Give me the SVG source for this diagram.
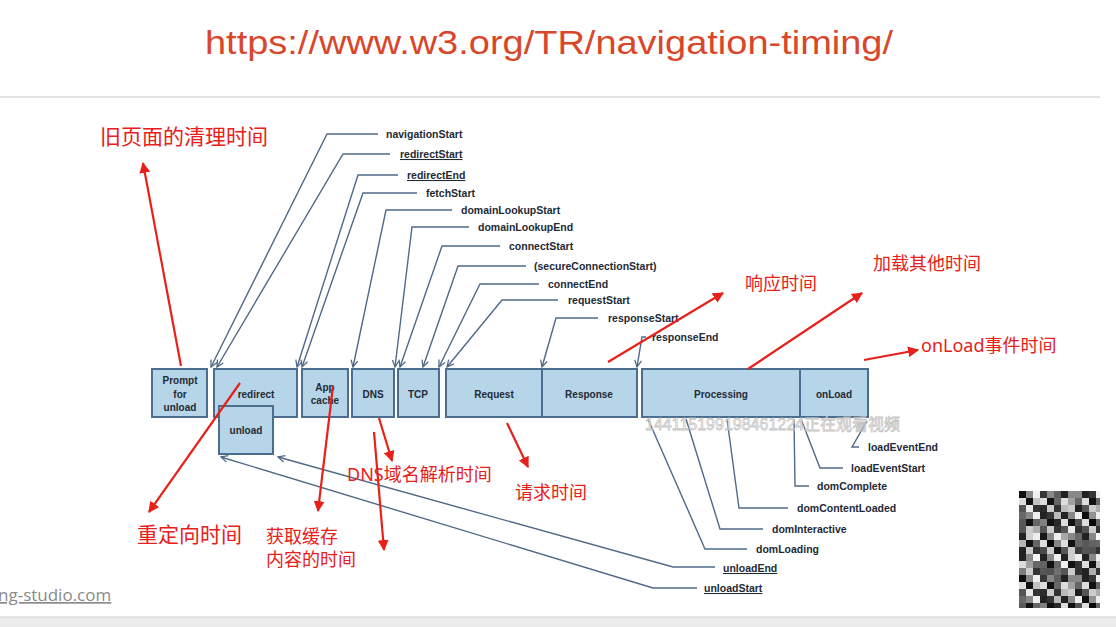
<svg xmlns="http://www.w3.org/2000/svg" width="1116" height="627" viewBox="0 0 1116 627">
<style>
.box{fill:#b6d5e8;stroke:#4b6e8e;stroke-width:2}
.bt{font-family:"Liberation Sans",Arial,sans-serif;font-weight:bold;font-size:10px;fill:#1e2a36;text-anchor:middle}
.lb{font-family:"Liberation Sans",Arial,sans-serif;font-weight:bold;font-size:10.5px;fill:#1e2a36}
.u{text-decoration:underline}
.con{fill:none;stroke:#4f6a88;stroke-width:1.4;marker-end:url(#ba)}
.con2{fill:none;stroke:#4f6a88;stroke-width:1.4}
.ra{stroke:#e8201a;stroke-width:2.2;fill:none;marker-end:url(#ra)}
.rt{font-family:"Noto Sans","Noto Sans CJK SC",sans-serif;fill:#e8201a;font-size:18px}
.rt21{font-size:21px}
</style>
<defs>
<marker id="ba" viewBox="0 0 10 10" refX="9" refY="5" markerWidth="6" markerHeight="6" orient="auto" markerUnits="strokeWidth">
<path d="M1,1 L9,5 L1,9" fill="none" stroke="#4f6a88" stroke-width="1.5"/>
</marker>
<marker id="ra" viewBox="0 0 10 10" refX="9" refY="5" markerWidth="5" markerHeight="5" orient="auto" markerUnits="strokeWidth">
<path d="M0,0 L10,5 L0,10 Z" fill="#e8201a"/>
</marker>
<pattern id="qa" width="21" height="21" patternUnits="userSpaceOnUse" x="1019" y="491">
<rect width="21" height="21" fill="#bbb"/>
<rect x="0" y="0" width="7" height="7" fill="#222"/>
<rect x="7" y="0" width="7" height="7" fill="#888"/>
<rect x="14" y="0" width="7" height="7" fill="#eee"/>
<rect x="0" y="7" width="7" height="7" fill="#ddd"/>
<rect x="7" y="7" width="7" height="7" fill="#111"/>
<rect x="14" y="7" width="7" height="7" fill="#666"/>
<rect x="0" y="14" width="7" height="7" fill="#555"/>
<rect x="7" y="14" width="7" height="7" fill="#ccc"/>
<rect x="14" y="14" width="7" height="7" fill="#333"/>
</pattern>
<pattern id="qb" width="35" height="28" patternUnits="userSpaceOnUse" x="1019" y="491">
<rect x="0" y="0" width="7" height="7" fill="#000"/>
<rect x="14" y="7" width="7" height="7" fill="#fff"/>
<rect x="21" y="0" width="7" height="7" fill="#444"/>
<rect x="7" y="14" width="7" height="7" fill="#fff"/>
<rect x="28" y="21" width="7" height="7" fill="#000"/>
<rect x="0" y="21" width="7" height="7" fill="#999"/>
<rect x="21" y="14" width="7" height="7" fill="#111"/>
</pattern>
</defs>
<rect width="1116" height="627" fill="#ffffff"/>

<g id="header">
<text x="549" y="54" font-family="Liberation Sans,Arial,sans-serif" font-size="33" fill="#d9472b" text-anchor="middle" textLength="688" lengthAdjust="spacingAndGlyphs">https://www.w3.org/TR/navigation-timing/</text>
<line x1="0" y1="97" x2="1100" y2="97" stroke="#d8d8d8" stroke-width="1.5"/>
</g>

<g id="connectors">
<polyline class="con" points="378,134 327,134 211,367"/>
<polyline class="con" points="390,154 343,154 217,367"/>
<polyline class="con" points="398,175 358,175 297,367"/>
<polyline class="con" points="417,193 363,193 302,367"/>
<polyline class="con" points="452,210 386,210 353,367"/>
<polyline class="con" points="469,227 412,227 395,367"/>
<polyline class="con" points="500,246 442,246 400,367"/>
<polyline class="con" points="526,266 458,266 423,367"/>
<polyline class="con" points="539,284 480,284 439,367"/>
<polyline class="con" points="558,300 502,300 447,367"/>
<polyline class="con" points="598,318 556,318 542,367"/>
<polyline class="con" points="646,337 642,337 637,367"/>
<polyline class="con2" points="867,421 852,447 859,447"/>
<polyline class="con2" points="801,419 820,468 843,468"/>
<polyline class="con2" points="794,419 795,486 809,486"/>
<polyline class="con2" points="727,419 739,508 788,508"/>
<polyline class="con2" points="686,419 720,529 763,529"/>
<polyline class="con2" points="648,419 705,549 747,549"/>
<polyline class="con" points="715,567 673,567 278,457"/>
<polyline class="con" points="697,588 653,588 221,457"/>
</g>

<g id="n-prompt"><rect class="box" x="152" y="369" width="55" height="48"/><text class="bt" x="180" y="384">Prompt</text><text class="bt" x="180" y="398">for</text><text class="bt" x="180" y="411">unload</text></g>
<g id="n-redirect"><rect class="box" x="214" y="369" width="83" height="48"/><text class="bt" x="256" y="398">redirect</text></g>
<g id="n-unload"><rect class="box" x="219" y="406" width="54" height="48"/><text class="bt" x="246" y="434">unload</text></g>
<g id="n-appcache"><rect class="box" x="302" y="369" width="46" height="48"/><text class="bt" x="325" y="391">App</text><text class="bt" x="325" y="404">cache</text></g>
<g id="n-dns"><rect class="box" x="352" y="369" width="42" height="48"/><text class="bt" x="373" y="398">DNS</text></g>
<g id="n-tcp"><rect class="box" x="398" y="369" width="41" height="48"/><text class="bt" x="418" y="398">TCP</text></g>
<g id="n-request"><rect class="box" x="446" y="369" width="96" height="48"/><text class="bt" x="494" y="398">Request</text></g>
<g id="n-response"><rect class="box" x="542" y="369" width="95" height="48"/><text class="bt" x="589" y="398">Response</text></g>
<g id="n-processing"><rect class="box" x="642" y="369" width="158" height="48"/><text class="bt" x="721" y="398">Processing</text></g>
<g id="n-onload"><rect class="box" x="800" y="369" width="68" height="48"/><text class="bt" x="834" y="398">onLoad</text></g>

<g id="labels">
<text class="lb" x="386" y="138">navigationStart</text>
<text class="lb u" x="400" y="158">redirectStart</text>
<text class="lb u" x="407" y="179">redirectEnd</text>
<text class="lb" x="426" y="197">fetchStart</text>
<text class="lb" x="461" y="214">domainLookupStart</text>
<text class="lb" x="478" y="231">domainLookupEnd</text>
<text class="lb" x="509" y="250">connectStart</text>
<text class="lb" x="534" y="270">(secureConnectionStart)</text>
<text class="lb" x="548" y="288">connectEnd</text>
<text class="lb" x="568" y="304">requestStart</text>
<text class="lb" x="608" y="322">responseStart</text>
<text class="lb" x="652" y="341">responseEnd</text>
<text class="lb" x="868" y="451">loadEventEnd</text>
<text class="lb" x="851" y="472">loadEventStart</text>
<text class="lb" x="817" y="490">domComplete</text>
<text class="lb" x="797" y="512">domContentLoaded</text>
<text class="lb" x="772" y="533">domInteractive</text>
<text class="lb" x="756" y="553">domLoading</text>
<text class="lb u" x="723" y="572">unloadEnd</text>
<text class="lb u" x="704" y="592">unloadStart</text>
</g>

<g id="annotations">
<line class="ra" x1="181" y1="366" x2="143" y2="163"/>
<line class="ra" x1="240" y1="383" x2="149" y2="512"/>
<line class="ra" x1="333" y1="386" x2="318" y2="511"/>
<line class="ra" x1="379" y1="418" x2="392" y2="461"/>
<line class="ra" x1="374" y1="432" x2="384" y2="550"/>
<line class="ra" x1="507" y1="423" x2="528" y2="467"/>
<line class="ra" x1="608" y1="362" x2="723" y2="293"/>
<line class="ra" x1="748" y1="369" x2="862" y2="293"/>
<line class="ra" x1="864" y1="360" x2="918" y2="350"/>
<text class="rt rt21" x="100" y="144">旧页面的清理时间</text>
<text class="rt rt21" x="137" y="542">重定向时间</text>
<text class="rt" x="266" y="543">获取缓存</text>
<text class="rt" x="266" y="566">内容的时间</text>
<text class="rt" x="347" y="481">DNS域名解析时间</text>
<text class="rt" x="515" y="499">请求时间</text>
<text class="rt" x="745" y="290">响应时间</text>
<text class="rt" x="873" y="270">加载其他时间</text>
<text class="rt" x="921" y="352">onLoad事件时间</text>
</g>

<g id="overlay">
<text x="645" y="430" font-family="Liberation Sans,'Noto Sans CJK SC',sans-serif" font-size="16" fill="#ffffff" stroke="#bcbcbc" stroke-width="0.8" opacity="0.85">144115199198461224正在观看视频</text>
<rect x="1019" y="491" width="81" height="117" fill="url(#qa)"/>
<rect x="1019" y="491" width="81" height="117" fill="url(#qb)" opacity="0.6"/>
<text x="-2" y="601" font-family="Open Sans,'Liberation Sans',sans-serif" font-size="17" fill="#8a8a8a" text-decoration="underline">ng-studio.com</text>
<rect x="0" y="617" width="1116" height="10" fill="#ececec"/>
<line x1="0" y1="617" x2="1116" y2="617" stroke="#d0d0d0" stroke-width="1"/>
</g>
</svg>
